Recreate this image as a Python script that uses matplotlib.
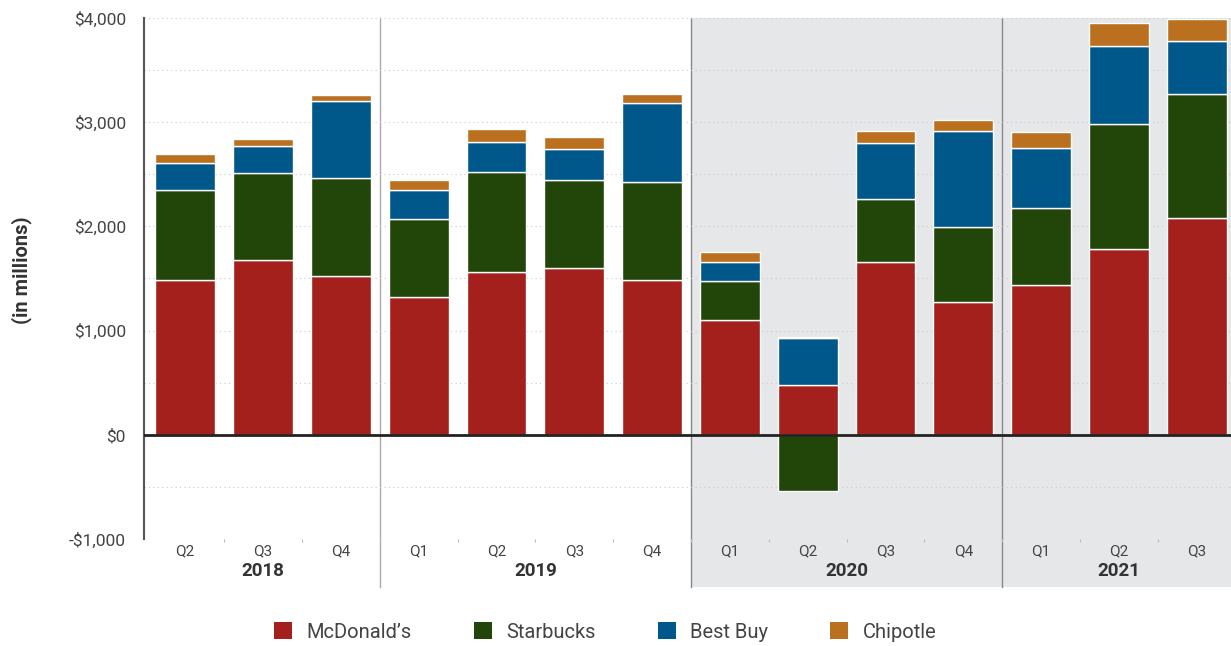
import matplotlib
matplotlib.use("Agg")
import numpy as np
import matplotlib.pyplot as plt
from matplotlib.patches import Rectangle, Patch
from matplotlib.transforms import blended_transform_factory
from matplotlib.ticker import FuncFormatter, MultipleLocator

plt.rcParams['font.family'] = ['Roboto', 'DejaVu Sans']

# quarters and years
quarters = ['Q2', 'Q3', 'Q4', 'Q1', 'Q2', 'Q3', 'Q4', 'Q1', 'Q2', 'Q3', 'Q4', 'Q1', 'Q2', 'Q3']
years = ['2018', '2019', '2020', '2021']
year_sizes = [3, 4, 4, 3]

# values in millions
mcdonalds = [1488, 1676, 1523, 1318, 1567, 1600, 1481, 1101, 480, 1660, 1276, 1440, 1782, 2076]
starbucks = [861, 835, 937, 752, 954, 844, 944, 377, -537, 602, 720, 735, 1200, 1190]
best_buy = [255, 260, 745, 275, 291, 301, 758, 176, 448, 543, 918, 573, 748, 518]
chipotle = [90, 70, 58, 105, 122, 115, 90, 96, 15, 115, 106, 160, 224, 208]

series = [("McDonald\u2019s", mcdonalds, '#A3201D'),
          ("Starbucks", starbucks, '#22450A'),
          ("Best Buy", best_buy, '#00578A'),
          ("Chipotle", chipotle, '#BA701E')]

fig = plt.figure(figsize=(12.31, 6.46), dpi=100)
ax = fig.add_axes([144 / 1231, 1 - 539 / 646, 1 - 144 / 1231, (539 - 18) / 646])

x = np.arange(len(quarters))
pos_bottom = np.zeros(len(x))
neg_bottom = np.zeros(len(x))
for name, vals, color in series:
    vals = np.array(vals, dtype=float)
    bottom = np.where(vals >= 0, pos_bottom, neg_bottom)
    ax.bar(x, vals, bottom=bottom, width=0.77, color=color, edgecolor='white',
           linewidth=1.0, zorder=3)
    pos_bottom += np.where(vals >= 0, vals, 0)
    neg_bottom += np.where(vals < 0, vals, 0)

ax.set_xlim(-0.53, 13.44)
ax.set_ylim(-1000, 4000)

trans = blended_transform_factory(ax.transData, ax.transAxes)
bottom_ext = (539 - 587) / 521

# grey shading for 2020 and 2021
ax.add_patch(Rectangle((6.5, bottom_ext), 7.5, 1 - bottom_ext, transform=trans,
                       facecolor='#E6E7E9', edgecolor='none', clip_on=False, zorder=0))

# year separators and year labels
start = 0
for i, (yr, n) in enumerate(zip(years, year_sizes)):
    center = start + (n - 1) / 2
    ax.text(center, -0.062, yr, transform=trans, ha='center', va='center',
            fontsize=13.5, fontweight='bold', color='#333333')
    if i > 0:
        ax.plot([start - 0.5, start - 0.5], [bottom_ext, 1], transform=trans,
                color='#888888' if i > 1 else '#aaaaaa', linewidth=1.0,
                clip_on=False, zorder=1)
    start += n

# small tick dots between bars
ax.set_xticks(x[:-1] + 0.5, minor=True)
ax.tick_params(axis='x', which='minor', length=2, width=0.8, color='#bbbbbb', pad=0)

# grid
ax.yaxis.set_major_locator(MultipleLocator(1000))
ax.yaxis.set_minor_locator(MultipleLocator(500))
ax.grid(axis='y', which='both', linestyle=(0, (1, 3)), color='#c8c8c8', linewidth=0.8, zorder=1)
ax.axhline(0, color='#222222', linewidth=2, zorder=4)

ax.yaxis.set_major_formatter(FuncFormatter(lambda v, p: f"-${abs(v):,.0f}" if v < 0 else f"${v:,.0f}"))
ax.tick_params(axis='y', which='both', length=0, labelsize=12.5, labelcolor='#444444', pad=13)
ax.set_xticks(x)
ax.set_xticklabels(quarters)
ax.tick_params(axis='x', which='major', length=0, labelsize=11, labelcolor='#444444', pad=4)

for s in ['top', 'right', 'bottom']:
    ax.spines[s].set_visible(False)
ax.spines['left'].set_color('#555555')
ax.spines['left'].set_linewidth(1.5)
ax.set_facecolor('none')

fig.text(22 / 1231, 1 - 270 / 646, '(in millions)', rotation=90, ha='center', va='center',
         fontsize=14.5, fontweight='bold', color='#333333')

handles = [Patch(facecolor=c, edgecolor='none', label=n) for n, v, c in series]
fig.legend(handles=handles, loc='center', bbox_to_anchor=(605 / 1231, 1 - 632 / 646), ncol=4,
           frameon=False, fontsize=14.5, labelcolor='#444444', handlelength=0.9, handleheight=0.9,
           handletextpad=0.7, columnspacing=3.1)

fig.savefig('out.png', dpi=100)
